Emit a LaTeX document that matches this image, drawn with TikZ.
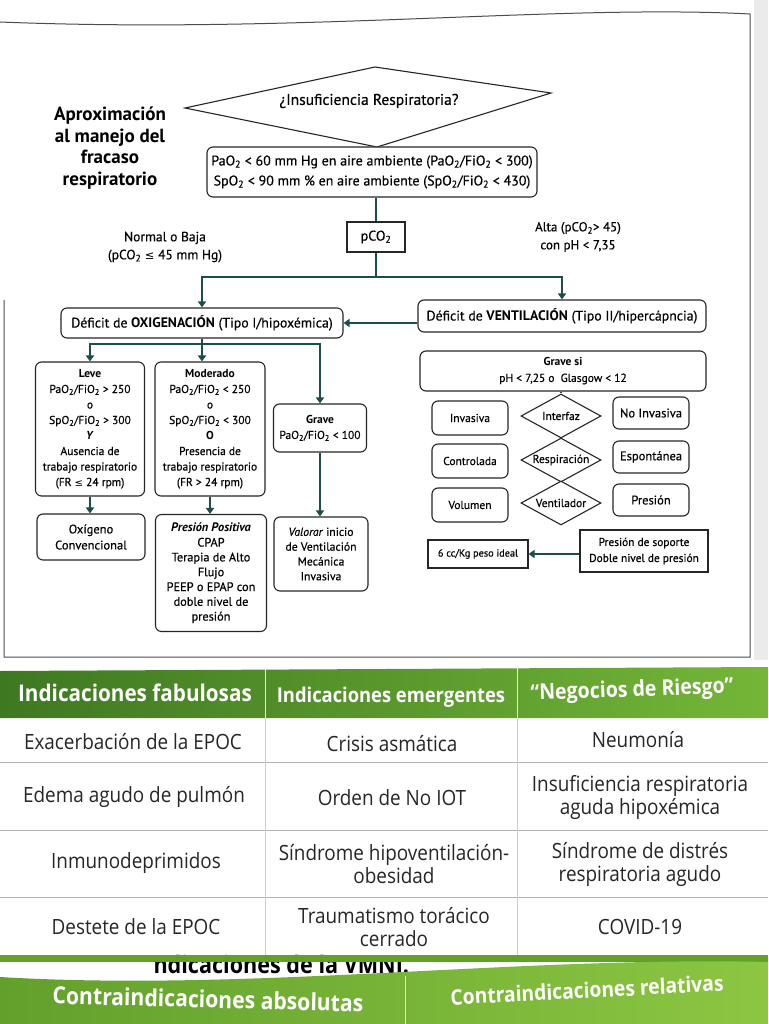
\documentclass[tikz,border=0pt]{standalone}
\usepackage{fontspec}
\setmainfont{PT Sans}[UprightFeatures={FakeBold=0.4}, ItalicFeatures={FakeBold=0.4}]
\newfontfamily\tabf[FakeStretch=0.9]{Open Sans}
\newfontfamily\symf{DejaVu Sans}
\usetikzlibrary{shapes.geometric,arrows.meta}
\newcommand\lo[1]{\textsubscript{#1}}
\definecolor{lnk}{RGB}{28,78,76}
\definecolor{gdark}{RGB}{62,120,34}
\definecolor{glight}{RGB}{116,182,56}
\definecolor{gband1}{RGB}{98,160,44}
\definecolor{gband2}{RGB}{140,198,66}
\tikzset{
  rbox/.style={draw=black!85, line width=1.1pt, rounded corners=6pt, align=center, inner sep=2pt, fill=white},
  sbox/.style={draw=black!85, line width=1.1pt, align=center, inner sep=2pt, fill=white},
  conn/.style={draw=lnk, line width=2.4pt},
  arr/.style={conn, -{Triangle[length=6pt,width=8pt]}},
  dia/.style={diamond, draw=black!85, aspect=1.8, inner sep=0pt, minimum width=80pt, minimum height=44pt, line width=1.1pt, fill=white},
  fm/.style={font=\fontsize{13.8}{20}\selectfont},
  fs/.style={font=\fontsize{11.5}{15.5}\selectfont},
  fx/.style={font=\fontsize{11.5}{16}\selectfont},
  thead/.style={text=white, font=\tabf\bfseries\fontsize{23}{24}\selectfont},
  tcell/.style={text=black!85, align=center, font=\tabf\fontsize{21}{23}\selectfont},
}
\begin{document}
\begin{tikzpicture}[x=1pt,y=-1pt]
\useasboundingbox (0,0) rectangle (768,1024);
\fill[white] (0,0) rectangle (768,1024);
\fill[black!8] (754,0) rectangle (768,660);
% outer frame
\draw[black!70, line width=1pt] (0,22) .. controls (300,34) and (560,4) .. (750,14) -- (750,657) -- (4,657) -- (4,300);
% title
\node[align=center, font=\bfseries\fontsize{19}{21.5}\selectfont] (title) at (110,148) {Aproximación\\al manejo del\\fracaso\\respiratorio};
% top diamond
\coordinate (dl) at (185,108);
\coordinate (dt) at (375,67);
\coordinate (dr) at (551,93);
\coordinate (db) at (377,147);
\draw[black!85, line width=1.1pt, fill=white] (dl) -- (dt) -- (dr) -- (db) -- cycle;
\node[font=\fontsize{15.5}{18}\selectfont] (q) at (369,101) {¿Insuficiencia Respiratoria?};
% criteria
\node[rbox, font=\fontsize{14}{20}\selectfont, minimum width=330pt, minimum height=50pt] (crit) at (372,172) {PaO\lo2 < 60 mm Hg en aire ambiente (PaO\lo2/FiO\lo2 < 300)\\SpO\lo2 < 90 mm \% en aire ambiente (SpO\lo2/FiO\lo2 < 430)};
\node[sbox, font=\fontsize{14}{18}\selectfont, minimum width=58pt, minimum height=30pt] (pco) at (376,237) {pCO\lo2};
\node[align=center, font=\fontsize{13.5}{18}\selectfont] (lbl1) at (165,247) {Normal o Baja\\(pCO\lo2 {\symf\fontsize{11.5}{12}\selectfont ≤} 45 mm Hg)};
\node[align=center, font=\fontsize{13}{18}\selectfont] (lbl2) at (578,237) {Alta (pCO\lo2> 45)\\con pH < 7,35};
\coordinate (b) at (376,277);
% level 2
\node[rbox, fm, minimum width=282pt, minimum height=30pt] (ox) at (202,323) {Déficit de \textbf{OXIGENACIÓN} (Tipo I/hipoxémica)};
\node[rbox, fm, minimum width=288pt, minimum height=32pt] (ve) at (562,316) {Déficit de \textbf{VENTILACIÓN} (Tipo II/hipercápncia)};
\coordinate (s) at (202,344);
% oxigenation branch
\node[rbox, fs, minimum width=109pt, minimum height=134pt] (leve) at (90,429) {\textbf{Leve}\\PaO\lo2/FiO\lo2 > 250\\o\\SpO\lo2/FiO\lo2 > 300\\\textbf{\textit{Y}}\\Ausencia de\\trabajo respiratorio\\(FR {\symf\fontsize{10}{12}\selectfont ≤} 24 rpm)};
\node[rbox, fs, minimum width=110pt, minimum height=134pt] (mod) at (210,429) {\textbf{Moderado}\\PaO\lo2/FiO\lo2 < 250\\o\\SpO\lo2/FiO\lo2 < 300\\\textbf{O}\\Presencia de\\trabajo respiratorio\\(FR > 24 rpm)};
\node[rbox, fs, minimum width=93pt, minimum height=48pt] (grv) at (320,428) {\textbf{Grave}\\PaO\lo2/FiO\lo2 < 100};
\node[rbox, font=\fontsize{12.5}{16}\selectfont, minimum width=108pt, minimum height=46pt] (oxc) at (91,537) {Oxígeno\\Convencional};
\node[rbox, font=\fontsize{12.3}{14.8}\selectfont, minimum width=111pt, minimum height=117pt] (pp) at (211,573) {\textbf{\textit{Presión Positiva}}\\CPAP\\Terapia de Alto\\Flujo\\PEEP o EPAP con\\doble nivel de\\presión};
\node[rbox, font=\fontsize{11.7}{14.8}\selectfont, minimum width=94pt, minimum height=74pt] (val) at (321,554) {\textit{Valorar} inicio\\de Ventilación\\Mecánica\\Invasiva};
% ventilation branch
\node[rbox, fx, minimum width=286pt, minimum height=40pt] (gsi) at (563,371) {\textbf{Grave si}\\pH < 7,25 o\ \ Glasgow < 12};
\node[dia, font=\fontsize{11.5}{14}\selectfont] (d1) at (561,416) {Interfaz};
\node[dia, font=\fontsize{11.5}{14}\selectfont] (d2) at (561,460) {Respiración};
\node[dia, font=\fontsize{11.5}{14}\selectfont] (d3) at (561,503) {Ventilador};
\node[rbox, fx, minimum width=76pt, minimum height=34pt] (inv) at (470,418) {Invasiva};
\node[rbox, fx, minimum width=76pt, minimum height=34pt] (con) at (470,461) {Controlada};
\node[rbox, fx, minimum width=76pt, minimum height=34pt] (vol) at (470,505) {Volumen};
\node[rbox, font=\fontsize{12.5}{14}\selectfont, minimum width=76pt, minimum height=32pt] (ni) at (651,413) {No Invasiva};
\node[rbox, font=\fontsize{12.5}{14}\selectfont, minimum width=76pt, minimum height=32pt] (esp) at (651,457) {Espontánea};
\node[rbox, font=\fontsize{12.5}{14}\selectfont, minimum width=76pt, minimum height=32pt] (pre) at (651,500) {Presión};
\node[sbox, font=\fontsize{10.3}{14}\selectfont, minimum width=100pt, minimum height=28pt] (cc) at (478,554) {6 cc/Kg peso ideal};
\node[sbox, font=\fontsize{11.4}{16}\selectfont, minimum width=128pt, minimum height=42pt] (ps) at (644,551) {Presión de soporte\\Doble nivel de presión};
% connectors
\draw[conn] (pco.north |- crit.south) -- (pco.north);
\draw[conn] (pco.south) -- (b);
\draw[arr] (b) -| (ox.north);
\draw[arr] (b) -| (ve.north);
\draw[arr] (ve.west |- ox.east) -- (ox.east);
\draw[conn] (ox.south) -- (s);
\draw[arr] (s) -| (leve.north);
\draw[arr] (s) -- (s |- mod.north);
\draw[arr] (s) -| (grv.north);
\draw[arr] (leve.south) -- (leve.south |- oxc.north);
\draw[arr] (mod.south) -- (mod.south |- pp.north);
\draw[arr] (grv.south) -- (grv.south |- val.north);
\draw[conn, line width=1.6pt] (gsi.south -| d1.north) -- (d1.north);
\draw[arr] (ps.west |- cc.east) -- (cc.east);
% ===== table =====
\shade[left color=gdark, right color=glight] (0,671) -- (768,667) -- (768,718) -- (0,718) -- cycle;
\draw[white!85!green, line width=1pt] (265,668) -- (265,718) (517,668) -- (517,718);
\node[thead] (h1) at (135,693) {Indicaciones fabulosas};
\node[thead, font=\tabf\bfseries\fontsize{20.4}{22}\selectfont] (h2) at (391,697) {Indicaciones emergentes};
\node[thead, font=\tabf\bfseries\fontsize{21.7}{24}\selectfont, rotate=2] (h3) at (632,691) {“Negocios de Riesgo”};
\draw[black!30, line width=0.8pt] (0,762) -- (768,762) (0,830) -- (768,830) (0,897) -- (768,897);
\draw[black!45, line width=1pt] (0,955) -- (768,955);
\draw[green!35!black!25, line width=0.8pt] (265,718) -- (265,955) (517,718) -- (517,955);
\node[tcell] (c11) at (133,742) {Exacerbación de la EPOC};
\node[tcell] (c12) at (392,744) {Crisis asmática};
\node[tcell] (c13) at (638,740) {Neumonía};
\node[tcell] (c21) at (134,797) {Edema agudo de pulmón};
\node[tcell] (c22) at (392,798) {Orden de No IOT};
\node[tcell] (c23) at (640,797) {Insuficiencia respiratoria\\aguda hipoxémica};
\node[tcell] (c31) at (136,863) {Inmunodeprimidos};
\node[tcell] (c32) at (394,864) {Síndrome hipoventilación-\\obesidad};
\node[tcell] (c33) at (640,864) {Síndrome de distrés\\respiratoria agudo};
\node[tcell] (c41) at (136,927) {Destete de la EPOC};
\node[tcell] (c42) at (394,927) {Traumatismo torácico\\cerrado};
\node[tcell] (c43) at (640,927) {COVID-19};
% caption fragment and second table header
\node[font=\tabf\bfseries\fontsize{24}{26}\selectfont, anchor=base west] (cap) at (150,973) {ndicaciones de la VMNI.};
\fill[gband1] (0,955) rectangle (768,962);
\shade[left color=gband1, right color=gband2] (0,977) .. controls (250,992) and (520,956) .. (768,962) -- (768,1024) -- (0,1024) -- cycle;
\draw[white!85!green, line width=1pt] (405,976) -- (405,1024);
\node[thead, font=\tabf\bfseries\fontsize{23.5}{26}\selectfont, rotate=-1.5] (k1) at (208,999) {Contraindicaciones absolutas};
\node[thead, font=\tabf\bfseries\fontsize{21.4}{24}\selectfont, rotate=3] (k2) at (587,990) {Contraindicaciones relativas};
\end{tikzpicture}
\end{document}
